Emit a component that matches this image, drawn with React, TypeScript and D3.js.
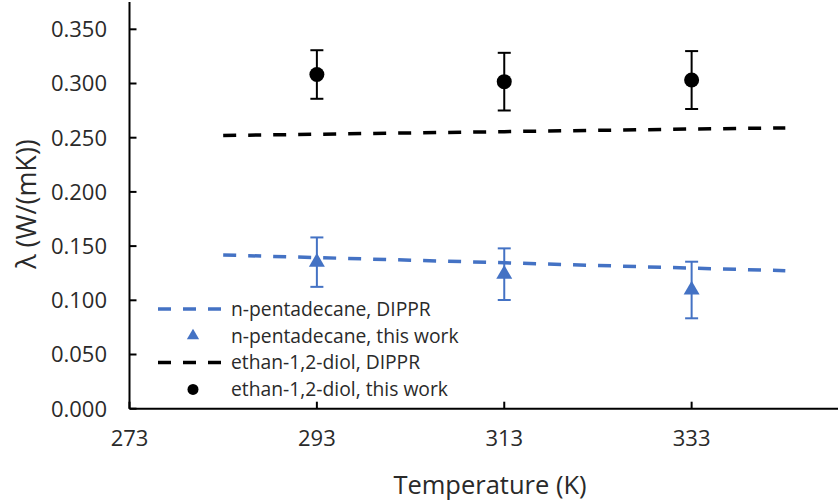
import React from "react";
import * as d3 from "d3";

const W = 838;
const H = 501;

// DIPPR correlation curves
const dipprTemps = [283, 293, 303, 313, 323, 333, 343];
const pentadecaneDippr = [0.1418, 0.1394, 0.137, 0.1346, 0.1321, 0.1297, 0.1273];
const diolDippr = [0.252, 0.2532, 0.2544, 0.2556, 0.2568, 0.258, 0.259];

// Measured points ("this work")
const measTemps = [293, 313, 333];
const pentadecaneMeas = [0.1352, 0.1241, 0.1095];
const pentadecaneErr = [0.0228, 0.0238, 0.0261];
const diolMeas = [0.3083, 0.3017, 0.3032];
const diolErr = [0.0224, 0.0266, 0.0267];

const xTicks = [273, 293, 313, 333];
const yTicks = [0, 0.05, 0.1, 0.15, 0.2, 0.25, 0.3, 0.35];

const legendLabels = [
  "n-pentadecane, DIPPR",
  "n-pentadecane, this work",
  "ethan-1,2-diol, DIPPR",
  "ethan-1,2-diol, this work",
];

const BLUE = "#4472C4";
const BLACK = "#000000";
const FONT = "'Open Sans', sans-serif";
const TEXT = "#2a2a2a";

export default function App() {
  const x = d3.scaleLinear().domain([273, 353]).range([129.5, 879]);
  const y = d3.scaleLinear().domain([0, 0.35]).range([408.7, 29.3]);

  const line = d3
    .line<[number, number]>()
    .x((d) => x(d[0]))
    .y((d) => y(d[1]));

  const pentLine = line(dipprTemps.map((t, i) => [t, pentadecaneDippr[i]] as [number, number]));
  const diolLine = line(dipprTemps.map((t, i) => [t, diolDippr[i]] as [number, number]));

  const tri = d3.symbol().type(d3.symbolTriangle).size(110)() as string;

  const x0 = x(273);
  const y0 = y(0);

  const errBar = (t: number, v: number, e: number, color: string, key: string) => (
    <g key={key} stroke={color} strokeWidth={2}>
      <line x1={x(t)} x2={x(t)} y1={y(v + e)} y2={y(v - e)} />
      <line x1={x(t) - 6.5} x2={x(t) + 6.5} y1={y(v + e)} y2={y(v + e)} />
      <line x1={x(t) - 6.5} x2={x(t) + 6.5} y1={y(v - e)} y2={y(v - e)} />
    </g>
  );

  const legX = 158;
  const legY0 = 309;
  const legStep = 26.8;

  return (
    <svg
      width={W}
      height={H}
      style={{ position: "absolute", left: 0, top: 0, background: "#fff" }}
      fontFamily={FONT}
    >
      <rect width={W} height={H} fill="#fff" />
      {/* axes */}
      <line x1={x0} x2={W} y1={y0} y2={y0} stroke="#000" strokeWidth={2} />
      <line x1={x0} x2={x0} y1={2} y2={y0} stroke="#000" strokeWidth={2} />
      {yTicks.map((t) => (
        <g key={"yt" + t}>
          <line x1={x0} x2={x0 + 7} y1={y(t)} y2={y(t)} stroke="#000" strokeWidth={2} />
          <text x={107} y={y(t)} dy="0.36em" textAnchor="end" fontSize={22} fill={TEXT}>
            {t.toFixed(3)}
          </text>
        </g>
      ))}
      {xTicks.map((t) => (
        <g key={"xt" + t}>
          <line x1={x(t)} x2={x(t)} y1={y0} y2={y0 - 7} stroke="#000" strokeWidth={2} />
          <text x={x(t)} y={446} textAnchor="middle" fontSize={22} fill={TEXT}>
            {t}
          </text>
        </g>
      ))}
      <text x={490} y={494} textAnchor="middle" fontSize={25.5} fill={TEXT}>
        Temperature (K)
      </text>
      <text
        transform={`translate(36,204) rotate(-90)`}
        textAnchor="middle"
        fontSize={27}
        fill={TEXT}
      >
        λ (W/(mK))
      </text>

      {/* DIPPR lines */}
      <path d={diolLine || ""} fill="none" stroke={BLACK} strokeWidth={3.5} strokeDasharray="13 12" />
      <path d={pentLine || ""} fill="none" stroke={BLUE} strokeWidth={3.5} strokeDasharray="13 12" />

      {/* measured points */}
      {measTemps.map((t, i) => errBar(t, pentadecaneMeas[i], pentadecaneErr[i], BLUE, "pe" + i))}
      {measTemps.map((t, i) => (
        <path key={"pt" + i} d={tri} transform={`translate(${x(t)},${y(pentadecaneMeas[i])})`} fill={BLUE} />
      ))}
      {measTemps.map((t, i) => errBar(t, diolMeas[i], diolErr[i], BLACK, "de" + i))}
      {measTemps.map((t, i) => (
        <circle key={"dc" + i} cx={x(t)} cy={y(diolMeas[i])} r={7.5} fill={BLACK} />
      ))}

      {/* legend */}
      {legendLabels.map((lab, i) => {
        const cy = legY0 + i * legStep;
        const color = i < 2 ? BLUE : BLACK;
        return (
          <g key={"lg" + i}>
            {i % 2 === 0 ? (
              <line x1={legX} x2={legX + 64} y1={cy} y2={cy} stroke={color} strokeWidth={3.5} strokeDasharray="13 12" />
            ) : i === 1 ? (
              <path d={d3.symbol().type(d3.symbolTriangle).size(65)() as string} transform={`translate(${legX + 35},${cy})`} fill={color} />
            ) : (
              <circle cx={legX + 35} cy={cy} r={5.5} fill={color} />
            )}
            <text x={231} y={cy} dy="0.35em" fontSize={19.3} fill={TEXT}>
              {lab}
            </text>
          </g>
        );
      })}
    </svg>
  );
}
